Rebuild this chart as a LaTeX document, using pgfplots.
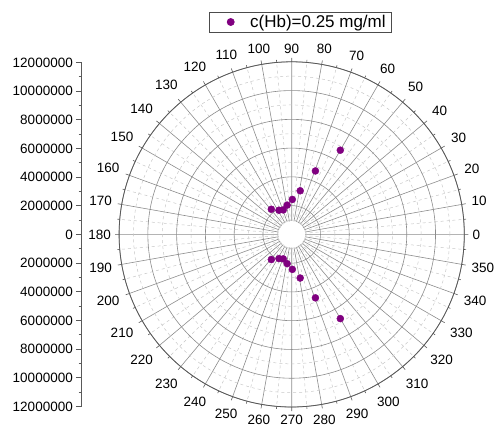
\documentclass[border=0pt]{standalone}
\usepackage{fontspec}
\setmainfont{Liberation Sans}
\usepackage{pgfplots}
\usepackage{pgfplotstable}
\usepgfplotslibrary{polar}
\pgfplotsset{compat=1.18}
\definecolor{hbpurple}{RGB}{128,0,128}

% legend sample: a single mark centred in a wider slot
\pgfplotsset{wide mark legend/.style={
  legend image code/.code={\path (-17bp,0bp) (17bp,0bp);
    \draw[##1] plot coordinates {(0bp,0bp)};}}}

% angle (deg) and signal intensity
\pgfplotstableread{
angle r
60    6760000
69.5  4710000
79    3090000
89    2430000
98.8  2060000
109   1800000
117.8 1900000
129   2250000
231   2250000
242.2 1900000
251   1800000
261.2 2060000
271   2430000
281   3090000
290.5 4710000
300   6760000
}\hbdata

\begin{document}
\begin{tikzpicture}
\useasboundingbox (0,0) rectangle (495bp,428bp);
\begin{polaraxis}[
  at={(291.7bp,193.6bp)}, anchor=center,
  scale only axis, width=345.2bp, height=345.2bp,
  xmin=0, xmax=360, ymin=0, ymax=12000000,
  scaled y ticks=false,
  xtick={0,10,20,30,40,50,60,70,80,90,100,110,120,130,140,150,160,170,180,190,200,210,220,230,240,250,260,270,280,290,300,310,320,330,340,350},
  minor xtick={5,15,25,35,45,55,65,75,85,95,105,115,125,135,145,155,165,175,185,195,205,215,225,235,245,255,265,275,285,295,305,315,325,335,345,355},
  ytick={0,2000000,4000000,6000000,8000000,10000000,12000000},
  minor ytick={1000000,3000000,5000000,7000000,9000000,11000000},
  yticklabels={},
  grid=both,
  major grid style={black!45, line width=0.6bp},
  minor grid style={black!22, dashed, line width=0.5bp},
  x axis line style={black!65, line width=0.8bp},
  y axis line style={draw=none},
  ytick style={draw=none},
  xtick style={black!65, line width=0.6bp},
  tick align=inside, major tick length=4bp, minor tick length=2.5bp,
  font=\fontsize{13.5bp}{16bp}\selectfont,
  xticklabel style={inner sep=8bp},
  /pgf/number format/assume math mode=true,
  legend style={at={(0.5255,1.1451)}, anchor=north, draw=black!70,
    line width=0.8bp, font=\fontsize{17bp}{20bp}\selectfont,
    inner xsep=4bp, inner ysep=1bp},
]
% open hub in the middle of the grid
\fill[white] (axis cs:0,0) circle[radius=13.3bp];
\addplot[only marks, mark=*, mark size=3.5bp, color=hbpurple, wide mark legend]
  table[x=angle, y=r] {\hbdata};
\addlegendentry{c(Hb)=0.25 mg/ml}
\end{polaraxis}

% radial scale on the left
\begin{axis}[
  at={(81.7bp,193.6bp)}, anchor=west,
  scale only axis, width=10bp, height=344bp,
  xmin=0, xmax=1, ymin=-12000000, ymax=12000000,
  scaled y ticks=false,
  hide x axis, axis y line*=left,
  y axis line style={black!65, line width=0.8bp},
  ytick={-12000000,-10000000,-8000000,-6000000,-4000000,-2000000,0,2000000,4000000,6000000,8000000,10000000,12000000},
  yticklabels={12000000,10000000,8000000,6000000,4000000,2000000,0,2000000,4000000,6000000,8000000,10000000,12000000},
  minor ytick={-11000000,-9000000,-7000000,-5000000,-3000000,-1000000,1000000,3000000,5000000,7000000,9000000,11000000},
  ytick style={black!65, line width=0.6bp},
  tick align=outside, major tick length=5.7bp, minor tick length=3bp,
  yticklabel style={font=\fontsize{13.5bp}{16bp}\selectfont, inner xsep=3bp},
]
\end{axis}
\end{tikzpicture}
\end{document}
